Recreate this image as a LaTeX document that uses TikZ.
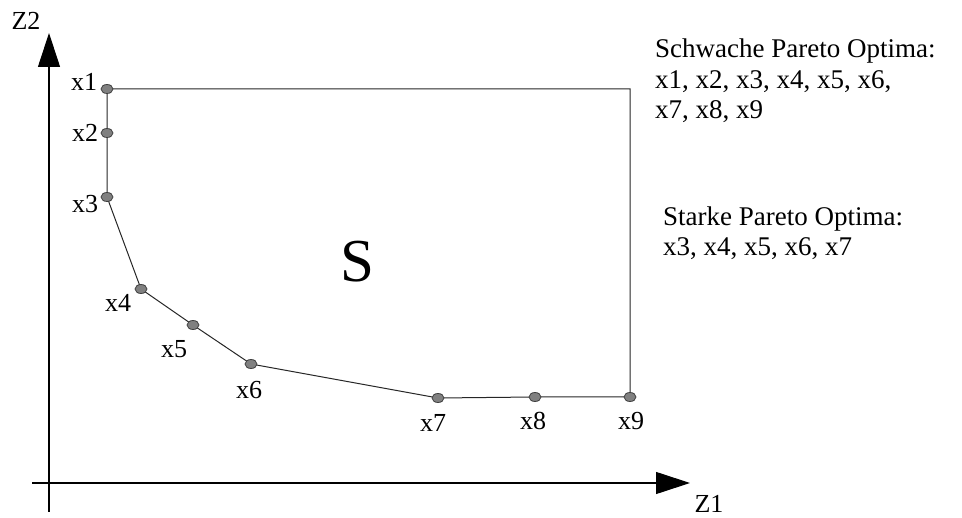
\documentclass[tikz,border=0pt]{standalone}
\usepackage{fontspec}
\setmainfont{Liberation Serif}
\usetikzlibrary{arrows.meta,shapes.geometric}
\begin{document}
\begin{tikzpicture}[x=1pt,y=-1pt,
  pt/.style={ellipse,draw=black!75,fill=black!50,line width=0.8pt,minimum width=12pt,minimum height=9pt,inner sep=0pt},
  lbl/.style={font=\fontsize{26}{30}\selectfont,inner sep=0pt},
  side/.style={font=\fontsize{27}{31}\selectfont,inner sep=0pt,anchor=base west},
  edge/.style={draw=black!85,line width=1pt},
  axis/.style={draw=black,line width=1.1pt,-{Triangle[length=34pt,width=22pt]}}]
\useasboundingbox (0,0) rectangle (962,518);
% axes
\coordinate (yb) at (49,512);
\coordinate (yt) at (49,33);
\coordinate (xb) at (32,483);
\coordinate (xt) at (690,483);
\draw[axis] (yb) -- (yt);
\draw[axis] (xb) -- (xt);
\node[lbl] (z2) at (26,21) {Z2};
\node[lbl] (z1) at (709,504) {Z1};
% points
\coordinate (c1) at (107,89);
\coordinate (c2) at (107,133);
\coordinate (c3) at (107,197);
\coordinate (c4) at (141,289);
\coordinate (c5) at (193,325);
\coordinate (c6) at (251,364);
\coordinate (c7) at (438,398);
\coordinate (c8) at (535,397);
\coordinate (c9) at (630,397);
\coordinate (corner) at (630,89);
\draw[edge] (c1) -- (c2) -- (c3) -- (c4) -- (c5) -- (c6) -- (c7) -- (c8) -- (c9) -- (corner) -- (c1);
\foreach \i in {1,...,9} \node[pt] (p\i) at (c\i) {};
% point labels
\node[lbl] (l1) at (84,82) {x1};
\node[lbl] (l2) at (85,133) {x2};
\node[lbl] (l3) at (85,204) {x3};
\node[lbl] (l4) at (118,303) {x4};
\node[lbl] (l5) at (174,349) {x5};
\node[lbl] (l6) at (249,390) {x6};
\node[lbl] (l7) at (433,423) {x7};
\node[lbl] (l8) at (533,421) {x8};
\node[lbl] (l9) at (631,421) {x9};
\node[font=\fontsize{61}{70}\selectfont,inner sep=0pt] (s) at (357,262) {S};
% side texts
\node[side] (w1) at (655,58) {Schwache Pareto Optima:};
\node[side] (w2) at (655,89) {x1, x2, x3, x4, x5, x6,};
\node[side] (w3) at (655,119) {x7, x8, x9};
\node[side] (s1) at (663,226) {Starke Pareto Optima:};
\node[side] (s2) at (663,256) {x3, x4, x5, x6, x7};
\end{tikzpicture}
\end{document}
